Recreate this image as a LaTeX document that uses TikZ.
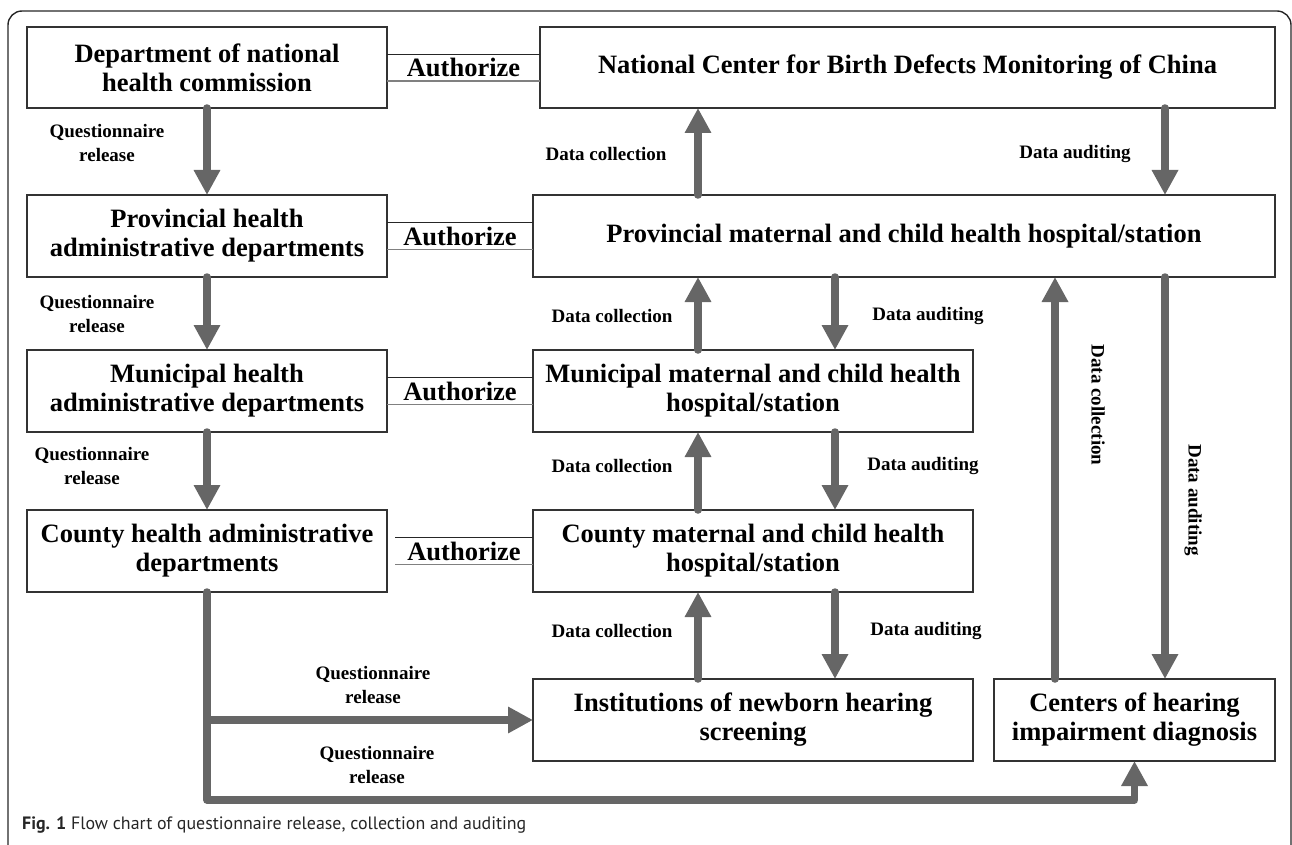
\documentclass[tikz,border=0pt]{standalone}
\usepackage{fontspec}
\usepackage{graphicx}
\setmainfont{Liberation Serif}
\newfontfamily\capfont{PT Sans}
\usetikzlibrary{arrows.meta,calc}
\definecolor{arrowgray}{HTML}{666666}
\definecolor{boxline}{HTML}{333333}
\definecolor{lightline}{HTML}{808080}
\begin{document}
\begin{tikzpicture}[x=1pt,y=-1pt,
  box/.style={draw=boxline, line width=1.1pt, outer sep=0pt, inner sep=2pt, align=center,
    font=\bfseries\fontsize{26.5}{29}\selectfont},
  lbl/.style={font=\bfseries\fontsize{19}{24}\selectfont, align=center, inner sep=0pt},
  auth/.style={font=\bfseries\fontsize{26.5}{29}\selectfont, inner sep=0pt},
  arr/.style={draw=arrowgray, line width=7.5pt, line cap=round, line join=round,
    -{Triangle[width=25pt,length=25pt]}},
  authtop/.style={draw=black!85, line width=0.9pt},
  authbot/.style={draw=lightline, line width=1.4pt},
  frame/.style={draw=black!85, line width=1.4pt, rounded corners=14pt}
]
\useasboundingbox (0,0) rectangle (1292,845);
% outer frame
\draw[frame] (8,850) -- (8,11) -- (1291,11) -- (1291,850);

% boxes
\node[box, minimum width=360pt, minimum height=81pt] (dept) at (207,67.5) {Department of national\\health commission};
\node[box, minimum width=735pt, minimum height=81pt] (nat) at (907.5,67.5) {National Center for Birth Defects Monitoring of China};
\node[box, minimum width=360pt, minimum height=82pt] (prov) at (207,236) {Provincial health\\administrative departments};
\node[box, minimum width=742pt, minimum height=82pt] (provm) at (904,236) {Provincial maternal and child health hospital/station};
\node[box, minimum width=360pt, minimum height=82pt] (muni) at (207,391) {Municipal health\\administrative departments};
\node[box, minimum width=440pt, minimum height=82pt] (munim) at (753,391) {Municipal maternal and child health\\hospital/station};
\node[box, minimum width=360pt, minimum height=82pt] (county) at (207,551) {County health administrative\\departments};
\node[box, minimum width=440pt, minimum height=82pt] (countym) at (753,551) {County maternal and child health\\hospital/station};
\node[box, minimum width=440pt, minimum height=82pt] (inst) at (753,720) {Institutions of newborn hearing\\screening};
\node[box, minimum width=281pt, minimum height=82pt] (cent) at (1134.5,720) {Centers of hearing\\impairment diagnosis};

% authorize connectors
\foreach \l/\r/\s in {dept/nat/0, prov/provm/0, muni/munim/0, county/countym/8}{
  \draw[authtop] ([xshift=\s pt, yshift=13.5pt]\l.east) -- ([yshift=13.5pt]\l.east -| \r.west);
  \draw[authbot] ([xshift=\s pt, yshift=-13.5pt]\l.east) -- ([yshift=-13.5pt]\l.east -| \r.west);
}
\node[auth] (a1) at ($(dept.east)!0.5!(dept.east -| nat.west)$) {Authorize};
\node[auth] (a2) at ($(prov.east)!0.5!(prov.east -| provm.west)$) {Authorize};
\node[auth] (a3) at ($(muni.east)!0.5!(muni.east -| munim.west)$) {Authorize};
\node[auth] (a4) at ($([xshift=8pt]county.east)!0.5!(county.east -| countym.west)$) {Authorize};

% column coordinates
\coordinate (c1) at (698,0);
\coordinate (c2) at (835,0);
\coordinate (r1) at (1055,0);
\coordinate (r2) at (1165,0);
\coordinate (bot) at (0,800);

% questionnaire release arrows
\draw[arr] (dept.south) -- (prov.north);
\draw[arr] (prov.south) -- (muni.north);
\draw[arr] (muni.south) -- (county.north);
\draw[arr] (county.south) -- (county.south |- bot) -| (cent.south);
\draw[arr] (county.south |- inst.west) -- (inst.west);

% data collection / auditing arrows
\draw[arr] (provm.north -| c1) -- (nat.south -| c1);
\draw[arr] (nat.south -| r2) -- (provm.north -| r2);
\draw[arr] (munim.north -| c1) -- (provm.south -| c1);
\draw[arr] (provm.south -| c2) -- (munim.north -| c2);
\draw[arr] (countym.north -| c1) -- (munim.south -| c1);
\draw[arr] (munim.south -| c2) -- (countym.north -| c2);
\draw[arr] (inst.north -| c1) -- (countym.south -| c1);
\draw[arr] (countym.south -| c2) -- (inst.north -| c2);
\draw[arr] (cent.north -| r1) -- (provm.south -| r1);
\draw[arr] (provm.south -| r2) -- (cent.north -| r2);

% labels
\node[lbl] (q1) at (107,143) {Questionnaire\\release};
\node[lbl] (q2) at (97,314) {Questionnaire\\release};
\node[lbl] (q3) at (92,466) {Questionnaire\\release};
\node[lbl] (q4) at (373,685) {Questionnaire\\release};
\node[lbl] (q5) at (377,765) {Questionnaire\\release};

\node[lbl] (dc1) at (606,154) {Data collection};
\node[lbl] (da1) at (1075,154) {Data auditing};
\node[lbl] (dc2) at (612,316) {Data collection};
\node[lbl] (da2) at (928,316) {Data auditing};
\node[lbl] (dc3) at (612,466) {Data collection};
\node[lbl] (da3) at (923,466) {Data auditing};
\node[lbl] (dc4) at (612,631) {Data collection};
\node[lbl] (da4) at (926,631) {Data auditing};
\node[lbl, rotate=-90] (dc5) at (1098,405) {Data collection};
\node[lbl, rotate=-90] (da5) at (1193,500) {Data auditing};

% caption
\node[anchor=base west, inner sep=0pt, font=\capfont\fontsize{17.9}{20}\selectfont, text=black!85] (cap) at (22,829)
  {\textbf{Fig. 1} Flow chart of questionnaire release, collection and auditing};
\end{tikzpicture}
\end{document}
